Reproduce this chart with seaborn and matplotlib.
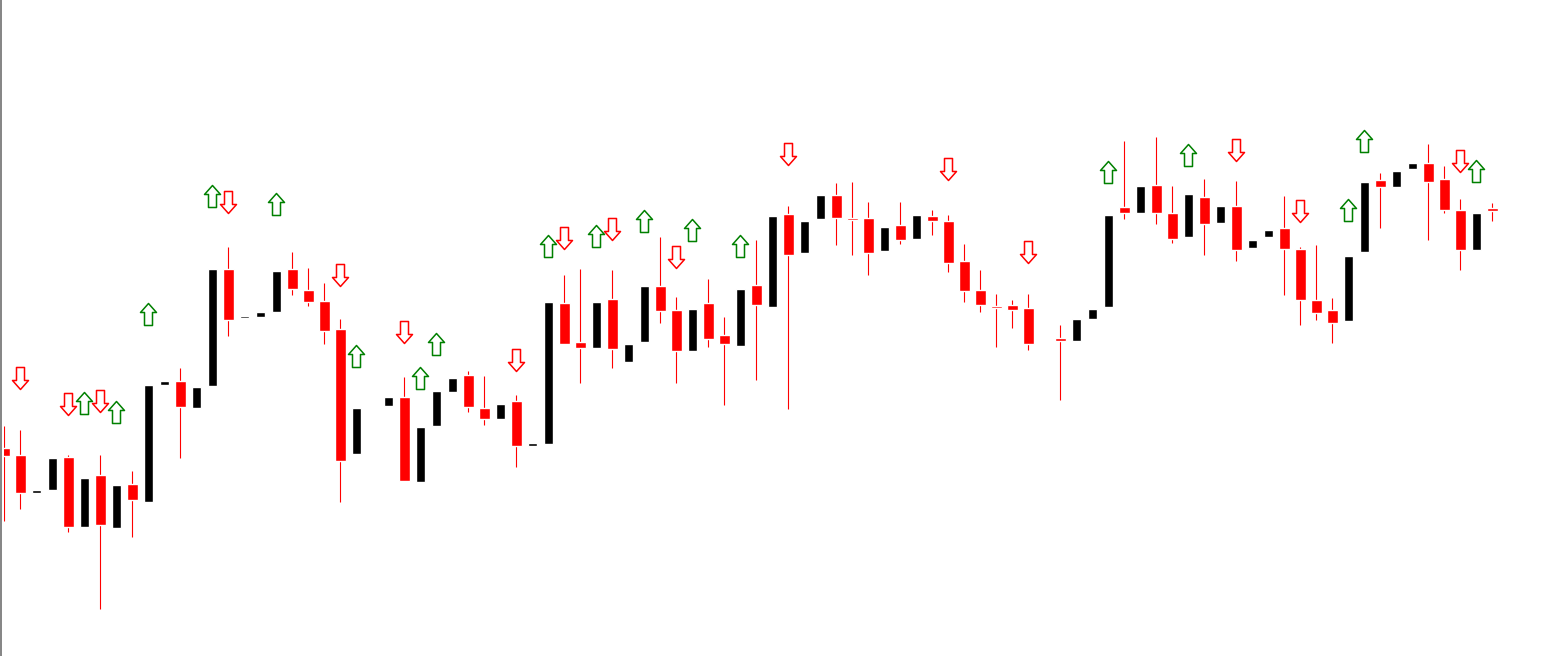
import numpy as np
import pandas as pd
import seaborn as sns
import matplotlib.pyplot as plt
from matplotlib.path import Path
from matplotlib.lines import Line2D

nan = np.nan

# candle data (chart units, bar index 0..93; two gaps with no bar)
opens = [208, 201, 163, 166, 199, 129, 181, 128, 172, 154, 271, 275, 248, 270, 387, 338, 339, 344, 387, 366,
         355, 327, 202, nan, 250, 259, 174, 230, 264, 281, 248, 237, 255, 210, 212, 353, 314, 308, 357, 294,
         314, 370, 346, 305, 353, 321, 310, 371, 349, 442, 403, 437, 461, 438, 438, 405, 431, 417, 440, 435,
         395, 366, 350, 351, 348, nan, 318, 315, 337, 349, 449, 443, 471, 443, 419, 459, 433, 450, 408, 419,
         428, 407, 356, 346, 335, 404, 476, 469, 487, 493, 477, 446, 406, 448]
closes = [200, 163, 166, 198, 129, 178, 131, 171, 156, 271, 275, 249, 269, 387, 336, 340, 344, 385, 367, 354,
          325, 195, 248, nan, 259, 175, 229, 265, 278, 249, 237, 252, 210, 213, 354, 312, 308, 354, 307, 312,
          370, 345, 305, 347, 317, 312, 367, 351, 440, 401, 435, 461, 438, 436, 403, 429, 416, 441, 435, 393,
          365, 351, 348, 346, 312, nan, 315, 337, 347, 441, 443, 470, 443, 417, 462, 432, 450, 406, 416, 426,
          407, 356, 343, 333, 400, 474, 469, 485, 493, 474, 446, 406, 443, 445]
highs = [230, 226, 166, 198, 201, 178, 201, 171, 185, 271, 275, 288, 269, 387, 409, 340, 344, 385, 404, 388,
         373, 337, 248, nan, 259, 279, 229, 265, 278, 285, 280, 252, 261, 213, 354, 381, 387, 354, 386, 312,
         370, 419, 359, 347, 377, 339, 367, 416, 440, 450, 435, 461, 473, 474, 454, 429, 454, 441, 446, 441,
         412, 386, 362, 356, 362, nan, 331, 337, 347, 441, 515, 470, 519, 470, 462, 477, 450, 475, 416, 426,
         460, 409, 411, 358, 400, 474, 483, 485, 493, 512, 490, 457, 443, 453]
lows = [135, 147, 163, 166, 124, 129, 47, 128, 119, 154, 271, 198, 248, 270, 320, 338, 339, 344, 361, 350,
        312, 154, 202, nan, 250, 175, 174, 230, 264, 244, 231, 237, 189, 210, 212, 312, 273, 308, 288, 294,
        314, 333, 273, 305, 309, 251, 310, 276, 349, 247, 403, 437, 411, 401, 381, 405, 412, 417, 421, 384,
        354, 344, 309, 328, 306, nan, 256, 315, 337, 349, 437, 443, 432, 413, 419, 401, 433, 395, 408, 419,
        361, 331, 336, 313, 335, 404, 428, 469, 487, 416, 443, 386, 406, 435]

# signal arrows: bar index and level
down_bars = [1, 4, 6, 14, 21, 25, 32, 35, 38, 42, 49, 59, 64, 77, 81, 91]
down_levels = [278, 252, 255, 454, 381, 324, 296, 418, 427, 399, 502, 487, 404, 506, 445, 495]
up_bars = [5, 7, 9, 13, 17, 22, 26, 27, 34, 37, 40, 43, 46, 69, 74, 84, 85, 92]
up_levels = [253, 244, 342, 460, 452, 300, 278, 312, 410, 420, 435, 426, 410, 484, 501, 446, 515, 485]

df = pd.DataFrame({"open": opens, "high": highs, "low": lows, "close": closes})
df["bar"] = np.arange(len(df))
df = df.dropna()
bull = df["close"] >= df["open"]

sns.set_style("white")
fig = plt.figure(figsize=(15.56, 6.56), dpi=100)
ax = fig.add_axes([4 / 1556, 0, 1 - 4 / 1556, 1])

# wicks (only red bars show any)
ax.vlines(df["bar"], df["low"], df["high"], color=np.where(bull, "black", "#ff0000"), lw=0.8, zorder=1)

# bodies
body_lo = np.minimum(df["open"], df["close"])
body_h = np.maximum((df["close"] - df["open"]).abs(), 2.5)
ax.bar(df["bar"][bull], body_h[bull], bottom=body_lo[bull], width=0.56, color="black", zorder=2)
ax.bar(df["bar"][~bull], body_h[~bull], bottom=body_lo[~bull], width=0.66, color="#ff0000", zorder=2)

# hollow block arrows
down_path = Path([(-4, 11), (4, 11), (4, -2), (8, -2), (0, -11), (-8, -2), (-4, -2), (-4, 11)], closed=True)
up_path = Path([(-4, -11), (4, -11), (4, 2), (8, 2), (0, 11), (-8, 2), (-4, 2), (-4, -11)], closed=True)
size = 15.84 ** 2
sns.scatterplot(x=down_bars, y=down_levels, marker=down_path, s=size, color="white",
                edgecolor="#ff0000", linewidth=1.1, ax=ax, zorder=3)
sns.scatterplot(x=up_bars, y=up_levels, marker=up_path, s=size, color="white",
                edgecolor="#008000", linewidth=1.1, ax=ax, zorder=3)

ax.set_xlim(-0.03, -0.03 + 1552 / 16)
ax.set_ylim(0, 656)
ax.set_xticks([])
ax.set_yticks([])
for s in ax.spines.values():
    s.set_visible(False)

fig.add_artist(Line2D([0.8 / 1556] * 2, [0, 1], color="#707070", lw=1.2, transform=fig.transFigure))

fig.savefig("out.png", dpi=100)
